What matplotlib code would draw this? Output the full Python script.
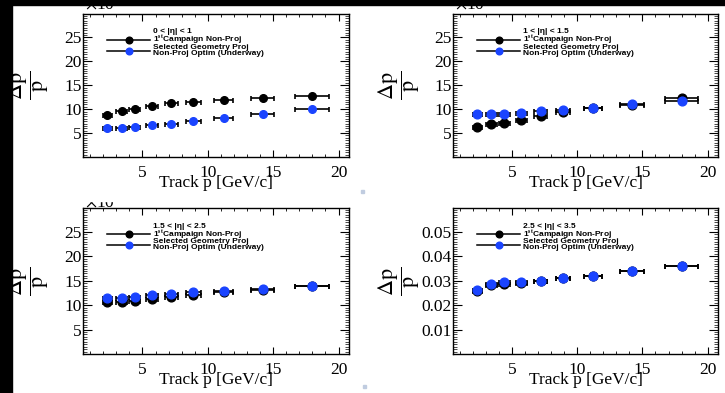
#importing libraries
import matplotlib
matplotlib.use("Agg")
import matplotlib.pyplot as plt
from matplotlib.lines import Line2D
from matplotlib.patches import Rectangle
from matplotlib.ticker import MultipleLocator

plt.rcParams['mathtext.fontset'] = 'stix'

# ------------------DATA-------------------
# track momentum bins (GeV/c), centre and half width
p_center = [2.3, 3.4, 4.4, 5.7, 7.2, 8.9, 11.2, 14.2, 18.0]
p_err = [0.35, 0.4, 0.4, 0.45, 0.5, 0.55, 0.7, 0.9, 1.3]

eta_labels = ["0 < |η| < 1", "1 < |η| < 1.5", "1.5 < |η| < 2.5", "2.5 < |η| < 3.5"]

# dp/p, first three panels in units of 1e-3
campaign_0 = [8.7, 9.6, 10.1, 10.6, 11.2, 11.5, 11.9, 12.4, 12.7]
selected_0 = [6.1, 6.15, 6.3, 6.6, 7.0, 7.5, 8.1, 9.0, 10.0]
campaign_1 = [6.3, 6.8, 7.2, 7.8, 8.5, 9.4, 10.25, 10.95, 12.4]
selected_1 = [8.9, 8.9, 8.95, 9.3, 9.7, 9.9, 10.3, 11.0, 11.7]
campaign_2 = [10.7, 10.7, 10.9, 11.2, 11.6, 12.1, 12.6, 13.2, 14.0]
selected_2 = [11.4, 11.55, 11.75, 12.1, 12.3, 12.6, 12.95, 13.4, 14.0]
campaign_3 = [0.0257, 0.0281, 0.0286, 0.029, 0.030, 0.031, 0.032, 0.034, 0.036]
selected_3 = [0.0264, 0.0286, 0.0296, 0.0293, 0.030, 0.031, 0.032, 0.034, 0.036]

x_ticks = [5, 10, 15, 20]
y_ticks_e3 = [5, 10, 15, 20, 25]
y_ticks_fwd = [0.01, 0.02, 0.03, 0.04, 0.05]

legend_entries = ["1$^{\\mathbf{st}}$Campaign Non-Proj",
                  "Selected Geometry Proj\nNon-Proj Optim (Underway)"]

BLUE = '#1a44ff'
W, H = 725, 393
SERIF = ['Liberation Serif', 'DejaVu Serif']
SANS = ['Liberation Sans', 'DejaVu Sans']


def px_rect(l, t, r, b):
    # pixel box -> figure fraction
    return [l / W, 1 - b / H, (r - l) / W, (b - t) / H]


#-----------------------------ONE PANEL--------------------
def draw_panel(ax, campaign, selected, label, yticks, ylim, minor, ms):
    ax.errorbar(p_center, campaign, xerr=p_err, fmt='o', color='black', ms=ms,
                elinewidth=1.2, capsize=1.8, capthick=1.2)
    ax.errorbar(p_center, selected, xerr=p_err, fmt='o', mfc=BLUE, mec=BLUE,
                ecolor='black', ms=ms, elinewidth=1.2, capsize=1.8, capthick=1.2)

    ax.set_xlim(0.45, 20.8)
    ax.set_ylim(*ylim)
    ax.set_xticks(x_ticks)
    ax.set_yticks(yticks)
    ax.xaxis.set_minor_locator(MultipleLocator(1))
    ax.yaxis.set_minor_locator(MultipleLocator(minor))
    ax.tick_params(which='both', direction='in', top=True, right=True)
    ax.tick_params(axis='x', which='major', length=5, width=0.8, pad=6)
    ax.tick_params(axis='x', which='minor', length=2.5, width=0.6)
    ax.tick_params(axis='y', which='major', length=6.5, width=0.8, pad=1)
    ax.tick_params(axis='y', which='minor', length=3.2, width=0.5)
    for t in ax.get_xticklabels() + ax.get_yticklabels():
        t.set_fontfamily(SERIF)
        t.set_fontsize(12.5)
    for s in ax.spines.values():
        s.set_linewidth(1.0)

    ax.set_xlabel('Track p [GeV/c]', fontfamily=SERIF, fontsize=12.5, va='center')
    ax.xaxis.set_label_coords(0.5, -0.18)
    ax.set_ylabel(r'$\dfrac{\mathrm{\Delta p}}{\mathrm{p}}$', fontsize=16, va='center')
    ax.yaxis.set_label_coords(-0.205, 0.5)

    # legend in ROOT style, rows packed tight
    blank = Line2D([], [], linestyle='none')
    h1 = Line2D([], [], color='black', lw=1.1, marker='o', ms=4.8, mfc='black', mec='black')
    h2 = Line2D([], [], color='black', lw=1.1, marker='o', ms=4.8, mfc=BLUE, mec=BLUE)
    leg = ax.legend([blank, h1, h2], [label] + legend_entries, loc='upper left',
                    bbox_to_anchor=(0.09, 0.9), frameon=False,
                    prop=dict(family=SANS, weight='bold', size=6.0),
                    handlelength=5.2, handletextpad=0.3, labelspacing=-0.28,
                    handleheight=0.4, borderpad=0, borderaxespad=0)
    for t in leg.get_texts():
        t.set_linespacing(0.8)


fig = plt.figure(figsize=(W / 100, H / 100), dpi=100)
boxes = [(83, 14, 349, 157), (453, 14, 718, 157), (83, 208, 349, 354), (453, 208, 718, 354)]
campaigns = [campaign_0, campaign_1, campaign_2, campaign_3]
selecteds = [selected_0, selected_1, selected_2, selected_3]
sizes = [5.5, 6.3, 6.3, 6.3]

for i in range(4):
    ax = fig.add_axes(px_rect(*boxes[i]))
    if i < 3:
        draw_panel(ax, campaigns[i], selecteds[i], eta_labels[i], y_ticks_e3, (0, 29.9), 0.5, sizes[i])
    else:
        draw_panel(ax, campaigns[i], selecteds[i], eta_labels[i], y_ticks_fwd, (0, 0.0598), 0.001, sizes[i])

# cropped exponent labels of the pasted plots
for x, y in [(85, 9), (455, 9), (85, 207)]:
    fig.text(x / W, 1 - y / H, r'$\times$10$^{-3}$', fontfamily=SERIF, fontsize=12.5,
             va='baseline', ha='left', zorder=5)

# slide borders / crop edges
fig.add_artist(Rectangle((0, 0), 12 / W, 1, transform=fig.transFigure, color='black', zorder=10))
fig.add_artist(Rectangle((0, 1 - 5 / H), 1, 5 / H, transform=fig.transFigure, color='black', zorder=10))
fig.add_artist(Rectangle((80 / W, 1 - 201 / H), 60 / W, 18 / H, transform=fig.transFigure,
                         color='white', zorder=10))
# small marks from the slide
for x, y in [(362, 191), (364, 386)]:
    fig.add_artist(Rectangle(((x - 1.5) / W, 1 - (y + 1.5) / H), 3 / W, 3 / H,
                             transform=fig.transFigure, color='#c0cce0', zorder=10))

fig.savefig('out.png', dpi=100)
